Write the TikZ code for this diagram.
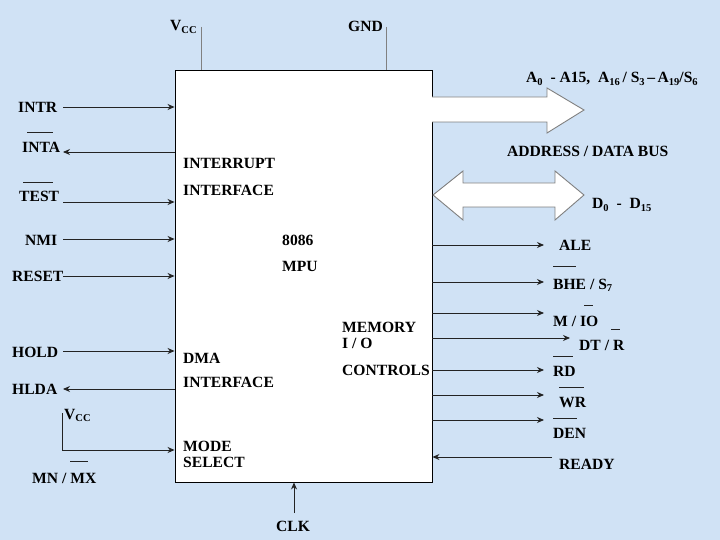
\documentclass[tikz,border=0pt]{standalone}
\usepackage{fontspec}
\setmainfont{Liberation Serif}
\usetikzlibrary{arrows.meta}
\definecolor{bg}{RGB}{208,226,245}
\definecolor{ln}{RGB}{35,35,35}
\newcommand{\sbs}[1]{\raisebox{-0.35ex}{\fontsize{10.5}{10.5}\selectfont #1}}
\tikzset{
  lbl/.style={inner sep=0pt, font=\fontsize{15.6}{15.6}\selectfont\bfseries},
  sig/.style={draw=ln, line width=0.9pt, -{Stealth[length=7pt,width=6pt]}},
  pwr/.style={draw=gray, line width=0.9pt},
  ovl/.style={draw=ln, line width=0.8pt},
  bus/.style={draw=gray, fill=white, line width=0.9pt, line join=miter}
}
\begin{document}
\begin{tikzpicture}[x=1pt,y=-1pt]
\useasboundingbox (0,0) rectangle (720,540);
\fill[bg] (0,0) rectangle (720,540);

% main box
\node[draw=black, fill=white, line width=0.9pt, minimum width=257pt, minimum height=412pt, inner sep=0pt] (mpu) at (303.5,276) {};

% inside texts
\node[lbl, anchor=base west] (ii1) at (183,169) {INTERRUPT};
\node[lbl, anchor=base west] (ii2) at (183,196) {INTERFACE};
\node[lbl, anchor=base west] (cpu1) at (282,245) {8086};
\node[lbl, anchor=base west] (cpu2) at (282,271) {MPU};
\node[lbl, anchor=base west] (mem1) at (342,332) {MEMORY};
\node[lbl, anchor=base west] (mem2) at (342,348) {I / O};
\node[lbl, anchor=base west] (mem3) at (342,375) {CONTROLS};
\node[lbl, anchor=base west] (dma1) at (183,363) {DMA};
\node[lbl, anchor=base west] (dma2) at (183,387) {INTERFACE};
\node[lbl, anchor=base west] (mode1) at (183,451) {MODE};
\node[lbl, anchor=base west] (mode2) at (183,467) {SELECT};

% top power pins
\node[lbl, anchor=base west] (vcc) at (170,31) {V\sbs{CC}};
\node[lbl, anchor=base west] (gnd) at (348,32) {GND};
\coordinate (vccT) at (201,27);
\coordinate (gndT) at (386,27);
\draw[pwr] (vccT) -- (vccT |- mpu.north);
\draw[pwr] (gndT) -- (gndT |- mpu.north);

% left signals
\node[lbl, anchor=base west] (intr) at (18,113) {INTR};
\node[lbl, anchor=base west] (inta) at (22,153) {INTA};
\node[lbl, anchor=base west] (test) at (19,202) {TEST};
\node[lbl, anchor=base west] (nmi) at (25,245) {NMI};
\node[lbl, anchor=base west] (reset) at (12,281) {RESET};
\node[lbl, anchor=base west] (hold) at (12,357) {HOLD};
\node[lbl, anchor=base west] (hlda) at (12,394) {HLDA};
\node[lbl, anchor=base west] (vcc2) at (64,419) {V\sbs{CC}};
\node[lbl, anchor=base west] (mnmx) at (32,483) {MN / MX};

\draw[ovl] (27,132) -- (53,132);
\draw[ovl] (23,182) -- (53,182);
\draw[ovl] (70,461) -- (88,461);

\coordinate (intrS) at (63,107);
\coordinate (intaS) at (63,152);
\coordinate (testS) at (63,202);
\coordinate (nmiS) at (63,239);
\coordinate (resetS) at (63,276);
\coordinate (holdS) at (63,351);
\coordinate (hldaS) at (63,389);
\coordinate (mnT) at (62,413);
\coordinate (mnC) at (62,450);
\draw[sig] (intrS) -- (intrS -| mpu.west);
\draw[sig] (intaS -| mpu.west) -- (intaS);
\draw[sig] (testS) -- (testS -| mpu.west);
\draw[sig] (nmiS) -- (nmiS -| mpu.west);
\draw[sig] (resetS) -- (resetS -| mpu.west);
\draw[sig] (holdS) -- (holdS -| mpu.west);
\draw[sig] (hldaS -| mpu.west) -- (hldaS);
\draw[sig] (mnT) -- (mnC) -- (mnC -| mpu.west);

% bottom clock
\node[lbl, anchor=base west] (clk) at (276,531) {CLK};
\coordinate (clkS) at (294,513);
\draw[sig] (clkS) -- (clkS |- mpu.south);

% buses
\draw[bus] (432,97) -- (547,97) -- (547,88) -- (584,110) -- (547,133) -- (547,122) -- (432,122);
\draw[bus] (433,195) -- (463,171) -- (463,183) -- (555,183) -- (555,171) -- (584,195) -- (555,220) -- (555,207) -- (463,207) -- (463,220) -- cycle;
\node[lbl, anchor=base west] (addr) at (526,83) {A\sbs{0}\ \ - A15,\ \ A\sbs{16}\,/ S\sbs{3}\,--\,A\sbs{19}/S\sbs{6}};
\node[lbl, anchor=base west] (adbus) at (507,157) {ADDRESS / DATA BUS};
\node[lbl, anchor=base west] (data) at (592,209) {D\sbs{0}\ \ -\ \ D\sbs{15}};

% right signals
\node[lbl, anchor=base west] (ale) at (559,251) {ALE};
\node[lbl, anchor=base west] (bhe) at (553,289) {BHE / S\sbs{7}};
\node[lbl, anchor=base west] (mio) at (553,326) {M / IO};
\node[lbl, anchor=base west] (dtr) at (579,350) {DT / R};
\node[lbl, anchor=base west] (rd) at (553,376) {RD};
\node[lbl, anchor=base west] (wr) at (559,407) {WR};
\node[lbl, anchor=base west] (den) at (553,438) {DEN};
\node[lbl, anchor=base west] (ready) at (559,469) {READY};

\draw[ovl] (553,266) -- (576,266);
\draw[ovl] (584,305) -- (593,305);
\draw[ovl] (611,329) -- (620,329);
\draw[ovl] (553,356) -- (573,356);
\draw[ovl] (559,387) -- (584,387);
\draw[ovl] (553,418) -- (577,418);

\coordinate (aleE) at (544,245);
\coordinate (bheE) at (544,282);
\coordinate (mioE) at (544,313);
\coordinate (dtrE) at (570,338);
\coordinate (rdE) at (544,370);
\coordinate (wrE) at (544,395);
\coordinate (denE) at (544,420);
\coordinate (readyS) at (552,457);
\draw[sig] (aleE -| mpu.east) -- (aleE);
\draw[sig] (bheE -| mpu.east) -- (bheE);
\draw[sig] (mioE -| mpu.east) -- (mioE);
\draw[sig] (dtrE -| mpu.east) -- (dtrE);
\draw[sig] (rdE -| mpu.east) -- (rdE);
\draw[sig] (wrE -| mpu.east) -- (wrE);
\draw[sig] (denE -| mpu.east) -- (denE);
\draw[sig] (readyS) -- (readyS -| mpu.east);
\end{tikzpicture}
\end{document}
